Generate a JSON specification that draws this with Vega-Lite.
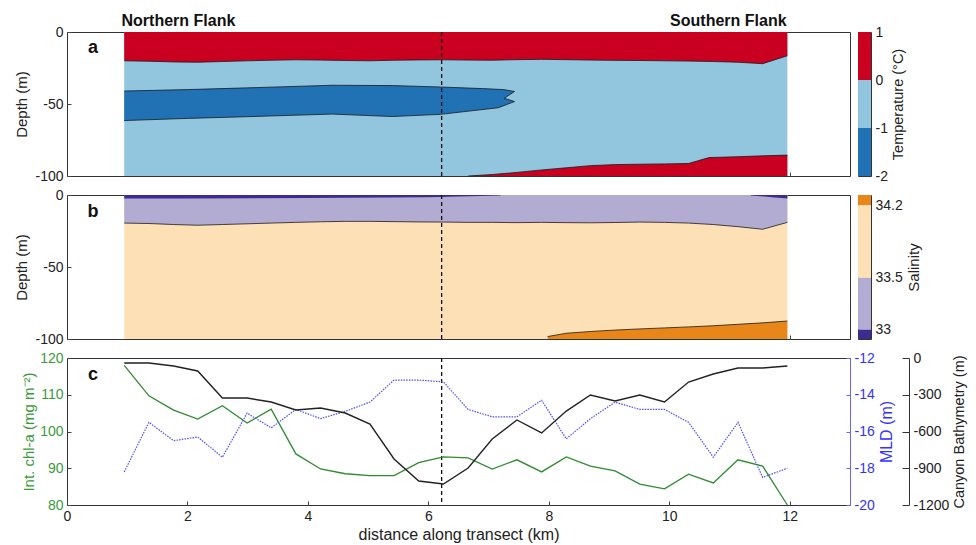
{
  "$schema": "https://vega.github.io/schema/vega-lite/v6.json",
  "background": "white",
  "padding": {"left": 14, "top": 12, "right": 3, "bottom": 1},
  "config": {
    "font": "Liberation Sans",
    "view": {"stroke": "#333", "strokeWidth": 1},
    "axis": {"labelFontSize": 14, "titleFontSize": 15, "titleFontWeight": "normal", "labelColor": "#222", "titleColor": "#222", "grid": false, "ticks": false, "domain": false, "labelPadding": 4, "labelFlush": false, "labelExpr": "datum.value + ''"}
  },
  "datasets": {
    "one": [{}],
    "tTop": [{"x":0.95,"d":-20},{"x":1.36,"d":-20.3},{"x":1.77,"d":-20.8},{"x":2.17,"d":-21},{"x":2.58,"d":-20.5},{"x":2.99,"d":-20},{"x":3.39,"d":-19.6},{"x":3.8,"d":-19.3},{"x":4.21,"d":-19.5},{"x":4.62,"d":-19.8},{"x":5.03,"d":-20},{"x":5.43,"d":-19.6},{"x":5.84,"d":-19.4},{"x":6.25,"d":-19.3},{"x":6.66,"d":-19.5},{"x":7.06,"d":-19.6},{"x":7.47,"d":-19.2},{"x":7.88,"d":-19},{"x":8.29,"d":-19.2},{"x":8.69,"d":-19.5},{"x":9.1,"d":-19.7},{"x":9.51,"d":-19.8},{"x":9.92,"d":-20},{"x":10.32,"d":-20.2},{"x":10.73,"d":-20.5},{"x":11.14,"d":-21},{"x":11.55,"d":-22},{"x":11.96,"d":-16.5}],
    "tLens": [{"i":0,"x":0.95,"d":-41},{"i":1,"x":2.0,"d":-40},{"i":2,"x":3.0,"d":-38.8},{"i":3,"x":4.4,"d":-37},{"i":4,"x":5.4,"d":-37.2},{"i":5,"x":6.2,"d":-38.2},{"i":6,"x":6.9,"d":-39.3},{"i":7,"x":7.25,"d":-40},{"i":8,"x":7.43,"d":-41.3},{"i":9,"x":7.26,"d":-46},{"i":10,"x":7.43,"d":-48.3},{"i":11,"x":7.16,"d":-52.6},{"i":12,"x":6.2,"d":-57.2},{"i":13,"x":5.4,"d":-58.7},{"i":14,"x":4.4,"d":-57},{"i":15,"x":3.0,"d":-58.8},{"i":16,"x":2.0,"d":-60},{"i":17,"x":0.95,"d":-61.5}],
    "tBot": [{"x":6.66,"d":-100},{"x":7.06,"d":-99},{"x":7.47,"d":-97.5},{"x":7.88,"d":-95.8},{"x":8.29,"d":-94.3},{"x":8.69,"d":-92.8},{"x":9.1,"d":-92.1},{"x":9.51,"d":-91.8},{"x":9.92,"d":-91.6},{"x":10.32,"d":-91.3},{"x":10.66,"d":-87.2},{"x":11.14,"d":-86.6},{"x":11.55,"d":-86},{"x":11.96,"d":-85.5}],
    "sTop": [{"s":"a","x":0.95,"d":-2.5},{"s":"a","x":2,"d":-2.4},{"s":"a","x":4,"d":-2.1},{"s":"a","x":6,"d":-1.5},{"s":"a","x":7.2,"d":-0.3},{"s":"b","x":11.35,"d":-0.3},{"s":"b","x":11.7,"d":-1.5},{"s":"b","x":11.96,"d":-2.5}],
    "sMid": [{"x":0.95,"d":-19.5},{"x":1.36,"d":-19.8},{"x":1.77,"d":-20.5},{"x":2.17,"d":-21},{"x":2.58,"d":-20.5},{"x":2.99,"d":-20},{"x":3.39,"d":-19.5},{"x":3.8,"d":-19},{"x":4.21,"d":-18.6},{"x":4.62,"d":-18.3},{"x":5.03,"d":-18.3},{"x":5.43,"d":-18.5},{"x":5.84,"d":-18.7},{"x":6.25,"d":-18.8},{"x":6.66,"d":-19},{"x":7.06,"d":-19},{"x":7.47,"d":-19.2},{"x":7.88,"d":-19},{"x":8.29,"d":-19.2},{"x":8.69,"d":-19.3},{"x":9.1,"d":-19.1},{"x":9.51,"d":-18.8},{"x":9.92,"d":-19},{"x":10.32,"d":-19.5},{"x":10.73,"d":-20.5},{"x":11.14,"d":-22},{"x":11.55,"d":-23.8},{"x":11.96,"d":-19}],
    "sBot": [{"x":7.98,"d":-98.3},{"x":8.29,"d":-96},{"x":8.69,"d":-94.8},{"x":9.1,"d":-93.8},{"x":9.51,"d":-93},{"x":9.92,"d":-92.3},{"x":10.32,"d":-91.6},{"x":10.73,"d":-90.8},{"x":11.14,"d":-89.8},{"x":11.55,"d":-88.8},{"x":11.96,"d":-87.5}],
    "cbT": [{"lo":0,"hi":1,"c":"#ca0020"},{"lo":-1,"hi":0,"c":"#92c5de"},{"lo":-2,"hi":-1,"c":"#2171b5"}],
    "cbS": [{"lo":34.2,"hi":34.3,"c":"#e8861a"},{"lo":33.5,"hi":34.2,"c":"#fee0b6"},{"lo":33,"hi":33.5,"c":"#b2abd2"},{"lo":32.91,"hi":33,"c":"#3b2d8f"}],
    "c": [
      {"x":0.95,"chl":118,"mld":-18.2,"bathy":-41},
      {"x":1.36,"chl":109.7,"mld":-15.5,"bathy":-41},
      {"x":1.77,"chl":105.8,"mld":-16.5,"bathy":-65},
      {"x":2.17,"chl":103.4,"mld":-16.3,"bathy":-106},
      {"x":2.58,"chl":107,"mld":-17.4,"bathy":-327},
      {"x":2.99,"chl":102.3,"mld":-15.0,"bathy":-327},
      {"x":3.39,"chl":106.1,"mld":-15.8,"bathy":-359},
      {"x":3.8,"chl":93.9,"mld":-14.8,"bathy":-424},
      {"x":4.21,"chl":89.8,"mld":-15.3,"bathy":-408},
      {"x":4.62,"chl":88.5,"mld":-14.9,"bathy":-449},
      {"x":5.03,"chl":88,"mld":-14.4,"bathy":-539},
      {"x":5.43,"chl":88,"mld":-13.2,"bathy":-824},
      {"x":5.84,"chl":91.5,"mld":-13.2,"bathy":-1004},
      {"x":6.25,"chl":93.1,"mld":-13.3,"bathy":-1029},
      {"x":6.66,"chl":92.8,"mld":-14.8,"bathy":-898},
      {"x":7.06,"chl":89.8,"mld":-15.2,"bathy":-661},
      {"x":7.47,"chl":92.3,"mld":-15.2,"bathy":-506},
      {"x":7.88,"chl":89,"mld":-14.3,"bathy":-612},
      {"x":8.29,"chl":93.1,"mld":-16.4,"bathy":-433},
      {"x":8.69,"chl":90.6,"mld":-15.3,"bathy":-302},
      {"x":9.1,"chl":89.3,"mld":-14.4,"bathy":-351},
      {"x":9.51,"chl":85.7,"mld":-14.8,"bathy":-302},
      {"x":9.92,"chl":84.4,"mld":-14.8,"bathy":-359},
      {"x":10.32,"chl":88.4,"mld":-15.5,"bathy":-196},
      {"x":10.73,"chl":86,"mld":-17.4,"bathy":-131},
      {"x":11.14,"chl":92.3,"mld":-15.5,"bathy":-82},
      {"x":11.55,"chl":90.6,"mld":-18.5,"bathy":-82},
      {"x":11.96,"chl":80,"mld":-18.0,"bathy":-65}
    ],
    "box": [{"x1":0.95,"x2":11.96,"y1":-100,"y2":0}]
  },
  "spacing": 3,
  "vconcat": [
    {
      "spacing": 6,
      "hconcat": [
        {
          "width": 783, "height": 144,
          "layer": [
            {"data": {"name": "box"}, "mark": {"type": "rect", "color": "#92c5de"},
             "encoding": {"x": {"field": "x1", "type": "quantitative", "scale": {"domain": [0, 13], "nice": false, "zero": false}, "axis": {"values": [2, 4, 6, 8, 10, 12], "labels": false, "title": null, "ticks": true, "tickSize": -4, "tickColor": "#444"}}, "x2": {"field": "x2"},
                          "y": {"field": "y1", "type": "quantitative", "scale": {"domain": [-100, 0], "nice": false, "zero": false}, "axis": {"title": "Depth (m)", "values": [0, -25, -50, -75, -100], "titlePadding": 5, "ticks": true, "tickSize": -4, "tickColor": "#444", "labelPadding": 8}}, "y2": {"field": "y2"}}},
            {"data": {"name": "tTop"}, "mark": {"type": "area", "color": "#ca0020"},
             "encoding": {"x": {"field": "x", "type": "quantitative"}, "y": {"field": "d", "type": "quantitative"}, "y2": {"datum": 0}}},
            {"data": {"name": "tTop"}, "mark": {"type": "line", "color": "#1a1a1a", "strokeWidth": 0.8},
             "encoding": {"x": {"field": "x", "type": "quantitative"}, "y": {"field": "d", "type": "quantitative"}}},
            {"data": {"name": "tLens"}, "mark": {"type": "line", "fill": "#2171b5", "stroke": "#1a1a1a", "strokeWidth": 0.8},
             "encoding": {"x": {"field": "x", "type": "quantitative"}, "y": {"field": "d", "type": "quantitative"}, "order": {"field": "i", "type": "quantitative"}}},
            {"data": {"name": "tBot"}, "mark": {"type": "area", "color": "#ca0020"},
             "encoding": {"x": {"field": "x", "type": "quantitative"}, "y": {"field": "d", "type": "quantitative"}, "y2": {"datum": -100}}},
            {"data": {"name": "tBot"}, "mark": {"type": "line", "color": "#1a1a1a", "strokeWidth": 0.8},
             "encoding": {"x": {"field": "x", "type": "quantitative"}, "y": {"field": "d", "type": "quantitative"}}},
            {"data": {"name": "one"}, "mark": {"type": "rule", "color": "#111", "strokeDash": [4, 3], "strokeWidth": 1.3}, "encoding": {"x": {"datum": 6.22}}},
            {"data": {"name": "one"}, "mark": {"type": "text", "fontSize": 18, "fontWeight": "bold", "color": "#111"},
             "encoding": {"x": {"datum": 0.43}, "y": {"datum": -11}, "text": {"value": "a"}}},
            {"data": {"name": "one"}, "mark": {"type": "text", "fontSize": 16, "fontWeight": "bold", "color": "#111"},
             "encoding": {"x": {"datum": 1.85}, "y": {"datum": 7.4}, "text": {"value": "Northern Flank"}}},
            {"data": {"name": "one"}, "mark": {"type": "text", "fontSize": 16, "fontWeight": "bold", "color": "#111"},
             "encoding": {"x": {"datum": 10.98}, "y": {"datum": 7.4}, "text": {"value": "Southern Flank"}}}
          ]
        },
        {
          "width": 13, "height": 144,
          "data": {"name": "cbT"},
          "mark": "rect",
          "encoding": {
            "y": {"field": "lo", "type": "quantitative", "scale": {"domain": [-2, 1], "nice": false, "zero": false}, "axis": {"orient": "right", "values": [1, 0, -1, -2], "title": "Temperature (°C)", "titleFontSize": 14.5, "titlePadding": 4, "titleAngle": 270, "titleBaseline": "top"}},
            "y2": {"field": "hi"},
            "color": {"field": "c", "type": "nominal", "scale": null}
          }
        }
      ]
    },
    {
      "spacing": 6,
      "hconcat": [
        {
          "width": 783, "height": 144,
          "layer": [
            {"data": {"name": "box"}, "mark": {"type": "rect", "color": "#fee0b6"},
             "encoding": {"x": {"field": "x1", "type": "quantitative", "scale": {"domain": [0, 13], "nice": false, "zero": false}, "axis": {"values": [2, 4, 6, 8, 10, 12], "labels": false, "title": null, "ticks": true, "tickSize": -4, "tickColor": "#444"}}, "x2": {"field": "x2"},
                          "y": {"field": "y1", "type": "quantitative", "scale": {"domain": [-100, 0], "nice": false, "zero": false}, "axis": {"title": "Depth (m)", "values": [0, -25, -50, -75, -100], "titlePadding": 5, "ticks": true, "tickSize": -4, "tickColor": "#444", "labelPadding": 8}}, "y2": {"field": "y2"}}},
            {"data": {"name": "sMid"}, "mark": {"type": "area", "color": "#b2abd2"},
             "encoding": {"x": {"field": "x", "type": "quantitative"}, "y": {"field": "d", "type": "quantitative"}, "y2": {"datum": 0}}},
            {"data": {"name": "sMid"}, "mark": {"type": "line", "color": "#1a1a1a", "strokeWidth": 0.8},
             "encoding": {"x": {"field": "x", "type": "quantitative"}, "y": {"field": "d", "type": "quantitative"}}},
            {"data": {"name": "sTop"}, "mark": {"type": "area", "color": "#3b2d8f"},
             "encoding": {"x": {"field": "x", "type": "quantitative"}, "y": {"field": "d", "type": "quantitative"}, "y2": {"datum": 0}, "detail": {"field": "s"}}},
            {"data": {"name": "sBot"}, "mark": {"type": "area", "color": "#e8861a"},
             "encoding": {"x": {"field": "x", "type": "quantitative"}, "y": {"field": "d", "type": "quantitative"}, "y2": {"datum": -100}}},
            {"data": {"name": "sBot"}, "mark": {"type": "line", "color": "#1a1a1a", "strokeWidth": 0.8},
             "encoding": {"x": {"field": "x", "type": "quantitative"}, "y": {"field": "d", "type": "quantitative"}}},
            {"data": {"name": "one"}, "mark": {"type": "rule", "color": "#111", "strokeDash": [4, 3], "strokeWidth": 1.3}, "encoding": {"x": {"datum": 6.22}}},
            {"data": {"name": "one"}, "mark": {"type": "text", "fontSize": 18, "fontWeight": "bold", "color": "#111"},
             "encoding": {"x": {"datum": 0.43}, "y": {"datum": -12}, "text": {"value": "b"}}}
          ]
        },
        {
          "width": 13, "height": 144,
          "data": {"name": "cbS"},
          "mark": "rect",
          "encoding": {
            "y": {"field": "lo", "type": "quantitative", "scale": {"domain": [32.91, 34.3], "nice": false, "zero": false}, "axis": {"orient": "right", "values": [34.2, 33.5, 33], "title": "Salinity", "titlePadding": 4, "titleAngle": 270, "titleBaseline": "top"}},
            "y2": {"field": "hi"},
            "color": {"field": "c", "type": "nominal", "scale": null}
          }
        }
      ]
    },
    {
      "width": 783, "height": 147,
      "layer": [
        {"data": {"name": "one"}, "mark": {"type": "rule", "color": "#111", "strokeDash": [4, 3], "strokeWidth": 1.3}, "encoding": {"x": {"datum": 6.22}}},
        {"data": {"name": "c"}, "mark": {"type": "line", "color": "#2e8b2e", "strokeWidth": 1.3},
         "encoding": {
           "x": {"field": "x", "type": "quantitative", "scale": {"domain": [0, 13], "nice": false, "zero": false}, "axis": {"values": [0, 2, 4, 6, 8, 10, 12], "title": "distance along transect (km)", "titleFontSize": 16, "titlePadding": 3, "ticks": true, "tickSize": -4, "tickColor": "#444", "labelPadding": 8}},
           "y": {"field": "chl", "type": "quantitative", "scale": {"domain": [80, 120], "nice": false, "zero": false}, "axis": {"values": [80, 90, 100, 110, 120], "title": "Int. chl-a (mg m⁻²)", "titleColor": "#3a9a3a", "labelColor": "#3a9a3a", "titlePadding": 3, "ticks": true, "tickSize": -4, "tickColor": "#444", "labelPadding": 8}}
         }},
        {"data": {"name": "c"}, "mark": {"type": "line", "color": "#4a4aff", "strokeWidth": 1.2, "strokeDash": [1.5, 1.2]},
         "encoding": {
           "x": {"field": "x", "type": "quantitative"},
           "y": {"field": "mld", "type": "quantitative", "scale": {"domain": [-20, -12], "nice": false, "zero": false}, "axis": {"orient": "right", "values": [-12, -14, -16, -18, -20], "title": "MLD (m)", "titleAngle": 270, "titleBaseline": "top", "titleColor": "#3333ff", "labelColor": "#3333ff", "titleFontSize": 16, "domain": true, "domainColor": "#6666ff", "ticks": true, "tickSize": -4, "tickColor": "#6666ff", "labelPadding": 8, "titlePadding": 4}}
         }},
        {"data": {"name": "c"}, "mark": {"type": "line", "color": "#222", "strokeWidth": 1.4},
         "encoding": {
           "x": {"field": "x", "type": "quantitative"},
           "y": {"field": "bathy", "type": "quantitative", "scale": {"domain": [-1200, 0], "nice": false, "zero": false}, "axis": {"orient": "right", "offset": 59, "values": [0, -300, -600, -900, -1200], "title": "Canyon Bathymetry (m)", "titleFontSize": 14.5, "titleAngle": 270, "titleBaseline": "top", "domain": true, "domainColor": "#333", "ticks": true, "tickColor": "#333", "tickSize": -7, "labelPadding": 11, "titlePadding": 4}}
         }},
        {"data": {"name": "one"}, "mark": {"type": "text", "fontSize": 18, "fontWeight": "bold", "color": "#111"},
         "encoding": {"x": {"datum": 0.43}, "y": {"datum": 115.4, "type": "quantitative", "scale": {"domain": [80, 120], "nice": false, "zero": false}, "axis": null}, "text": {"value": "c"}}}
      ],
      "resolve": {"scale": {"y": "independent"}}
    }
  ]
}
